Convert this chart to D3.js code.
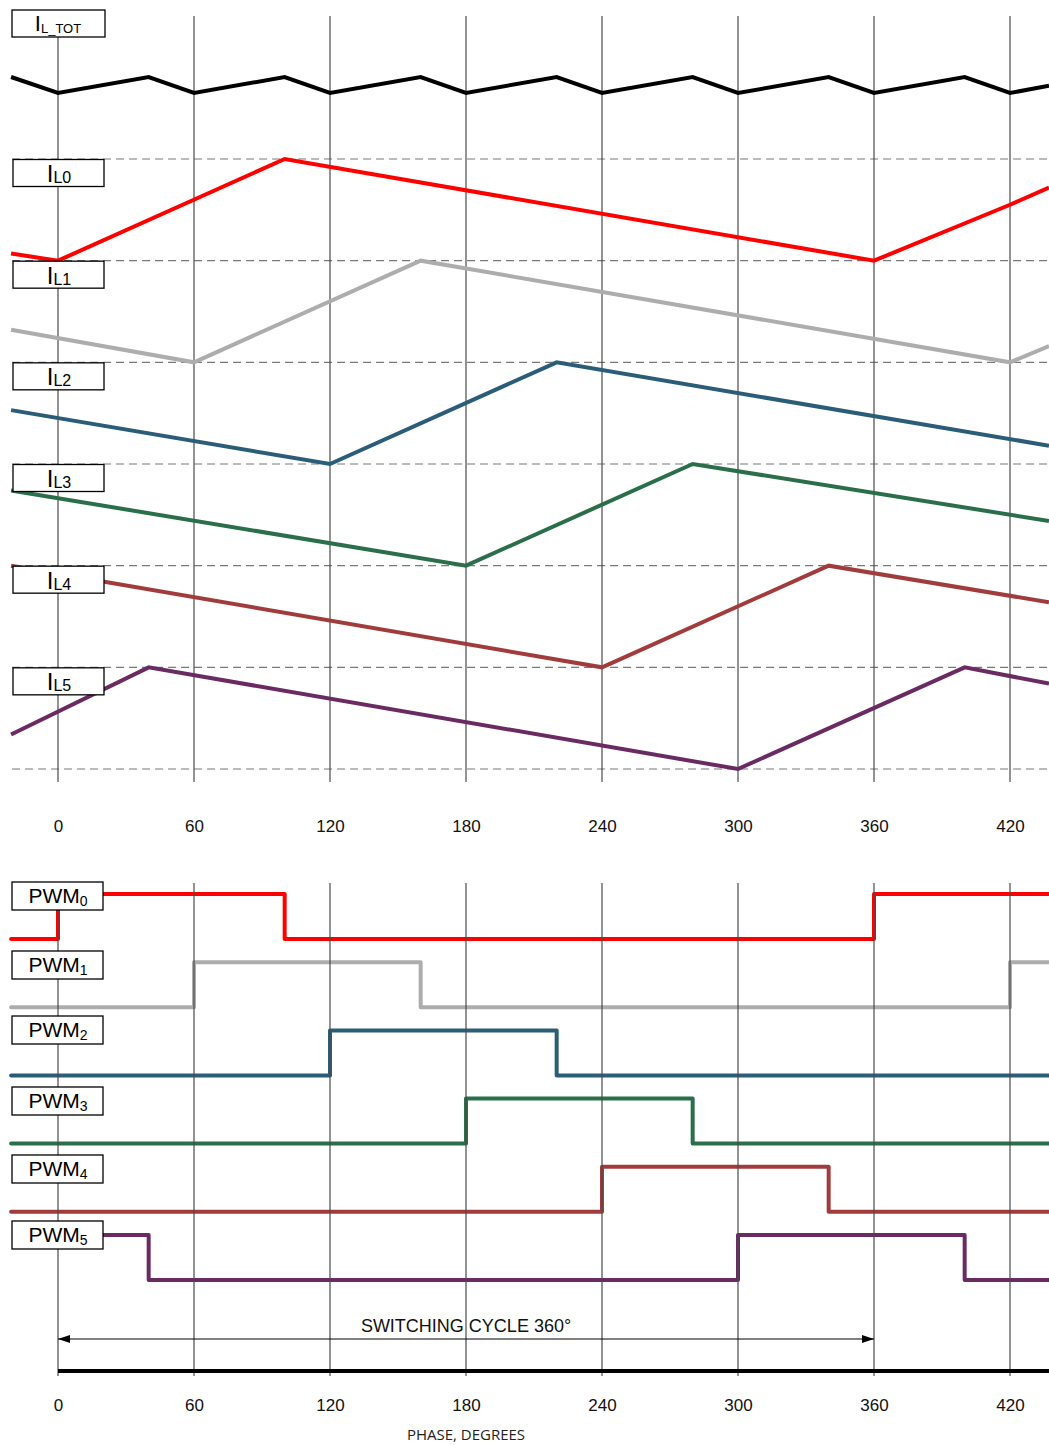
<!DOCTYPE html>
<html>
<head>
<meta charset="utf-8">
<script src="https://cdn.jsdelivr.net/npm/d3@7"></script>
<style>
  html, body { margin: 0; padding: 0; background: #fff; }
  svg { display: block; }
</style>
</head>
<body>
<svg id="chart" width="1049" height="1445"></svg>
<script>
// Phase axis ticks (degrees)
const phaseTicks = [0, 60, 120, 180, 240, 300, 360, 420];
const phaseStart = -20.7;
const phaseEnd = 437.2;

// Total inductor current: valleys at every 60 deg, peaks 40 deg later (0 = valley, 1 = peak)
const ilTotal = [
  [-20.7, 1], [0, 0], [40, 1], [60, 0], [100, 1], [120, 0], [160, 1], [180, 0],
  [220, 1], [240, 0], [280, 1], [300, 0], [340, 1], [360, 0], [400, 1], [420, 0], [437.2, 0.45]
];

// Phase currents, [phase, level] with 0 = valley, 1 = peak
const il0 = [[-20.7, 0.07], [0, 0], [100, 1], [360, 0], [420, 0.55], [437.2, 0.72]];
const il1 = [[-20.7, 0.32], [60, 0], [160, 1], [420, 0], [437.2, 0.16]];
const il2 = [[-20.7, 0.53], [120, 0], [220, 1], [437.2, 0.18]];
const il3 = [[-20.7, 0.74], [180, 0], [280, 1], [437.2, 0.44]];
const il4 = [[-20.7, 1], [240, 0], [340, 1], [437.2, 0.64]];
const il5 = [[-20.7, 0.34], [40, 1], [300, 0], [400, 1], [437.2, 0.84]];
const phaseCurrents = [il0, il1, il2, il3, il4, il5];
const ilLabels = ["L0", "L1", "L2", "L3", "L4", "L5"];

// PWM gate signals, [phase, state] stepping after each point
const pwm0 = [[-20.7, 0], [0, 1], [100, 0], [360, 1], [437.2, 1]];
const pwm1 = [[-20.7, 0], [60, 1], [160, 0], [420, 1], [437.2, 1]];
const pwm2 = [[-20.7, 0], [120, 1], [220, 0], [437.2, 0]];
const pwm3 = [[-20.7, 0], [180, 1], [280, 0], [437.2, 0]];
const pwm4 = [[-20.7, 0], [240, 1], [340, 0], [437.2, 0]];
const pwm5 = [[0, 1], [40, 0], [300, 1], [400, 0], [437.2, 0]];
const pwmSignals = [pwm0, pwm1, pwm2, pwm3, pwm4, pwm5];
const pwmLabels = ["0", "1", "2", "3", "4", "5"];

const phaseColors = ["#ff0000", "#adadad", "#2b5c78", "#2a6e4a", "#a23c3c", "#6a2a62"];

const svg = d3.select("#chart");
const font = "'Liberation Sans', Arial, Helvetica, sans-serif";

const x = d3.scaleLinear().domain([0, 420]).range([58, 1010]);

// ---------- Inductor current panel ----------
const rowY = d3.scaleLinear().domain([0, 6]).range([159, 769]);
const totY = d3.scaleLinear().domain([0, 1]).range([93, 77]);

const currentPanel = svg.append("g");

// dashed reference levels
currentPanel.selectAll("line.level")
  .data(d3.range(7))
  .join("line")
  .attr("x1", x(phaseStart) + 1).attr("x2", x(phaseEnd))
  .attr("y1", d => rowY(d)).attr("y2", d => rowY(d))
  .attr("stroke", "#787878").attr("stroke-width", 1.2)
  .attr("stroke-dasharray", "8,5");

// vertical phase grid
currentPanel.selectAll("line.grid")
  .data(phaseTicks)
  .join("line")
  .attr("x1", d => x(d)).attr("x2", d => x(d))
  .attr("y1", 16).attr("y2", 782)
  .attr("stroke", "#4a4a4a").attr("stroke-width", 1.2);

// total current
currentPanel.append("path")
  .datum(ilTotal)
  .attr("d", d3.line().x(d => x(d[0])).y(d => totY(d[1])))
  .attr("fill", "none").attr("stroke", "#000").attr("stroke-width", 4)
  .attr("stroke-linejoin", "miter");

// phase currents
phaseCurrents.forEach((pts, i) => {
  currentPanel.append("path")
    .datum(pts)
    .attr("d", d3.line().x(d => x(d[0])).y(d => rowY(i + 1 - d[1])))
    .attr("fill", "none").attr("stroke", phaseColors[i]).attr("stroke-width", 4)
    .attr("stroke-linejoin", "miter");
});

// label boxes
function labelBox(g, bx, by, bw, bh) {
  g.append("rect")
    .attr("x", bx).attr("y", by).attr("width", bw).attr("height", bh)
    .attr("fill", "#fff").attr("stroke", "#000").attr("stroke-width", 1.3);
}

labelBox(currentPanel, 12, 10, 93, 27);
{
  const t = currentPanel.append("text")
    .attr("x", 58).attr("y", 31)
    .attr("text-anchor", "middle")
    .attr("font-family", font).attr("fill", "#000");
  t.append("tspan").attr("font-size", 22).text("I");
  t.append("tspan").attr("font-size", 13).attr("dy", 2).text("L_TOT");
}

ilLabels.forEach((lab, i) => {
  const by = rowY(i);
  labelBox(currentPanel, 13, by + 0.5, 91, 27);
  const t = currentPanel.append("text")
    .attr("x", 59).attr("y", by + 23)
    .attr("text-anchor", "middle")
    .attr("font-family", font).attr("fill", "#000");
  t.append("tspan").attr("font-size", 24).text("I");
  t.append("tspan").attr("font-size", 16).attr("dy", 1).text(lab);
});

// top axis labels
const topAxis = currentPanel.append("g")
  .attr("transform", "translate(0,820)")
  .call(d3.axisBottom(x).tickValues(phaseTicks).tickSize(0).tickPadding(0));
topAxis.select(".domain").remove();
topAxis.selectAll("text")
  .attr("font-family", font).attr("font-size", 17).attr("fill", "#111")
  .attr("dy", "0.71em").attr("y", 0);

// ---------- PWM panel ----------
const pwmRow = d3.scaleLinear().domain([0, 5]).range([939, 1280]);
const pwmLevel = d3.scaleLinear().domain([0, 1]).range([0, -45]);

const pwmPanel = svg.append("g");

pwmSignals.forEach((pts, i) => {
  pwmPanel.append("path")
    .datum(pts)
    .attr("d", d3.line().curve(d3.curveStepAfter)
      .x(d => x(d[0])).y(d => pwmRow(i) + pwmLevel(d[1])))
    .attr("fill", "none").attr("stroke", phaseColors[i]).attr("stroke-width", 4)
    .attr("stroke-linejoin", "round").attr("stroke-linecap", "round");
});

pwmPanel.selectAll("line.grid")
  .data(phaseTicks)
  .join("line")
  .attr("x1", d => x(d)).attr("x2", d => x(d))
  .attr("y1", 883).attr("y2", 1376)
  .attr("stroke", "#4a4a4a").attr("stroke-width", 1.2);

const pwmBoxTop = [882, 951, 1016, 1087, 1155, 1221];
pwmLabels.forEach((lab, i) => {
  const by = pwmBoxTop[i];
  labelBox(pwmPanel, 12, by, 91, 28);
  const t = pwmPanel.append("text")
    .attr("x", 58).attr("y", by + 21)
    .attr("text-anchor", "middle")
    .attr("font-family", font).attr("fill", "#000");
  t.append("tspan").attr("font-size", 21).text("PWM");
  t.append("tspan").attr("font-size", 14).attr("dy", 3).text(lab);
});

// switching cycle arrow
const defs = svg.append("defs");
defs.append("marker")
  .attr("id", "arrowHead")
  .attr("viewBox", "0 0 12 8")
  .attr("refX", 12).attr("refY", 4)
  .attr("markerWidth", 12).attr("markerHeight", 8)
  .attr("markerUnits", "userSpaceOnUse")
  .attr("orient", "auto-start-reverse")
  .append("path").attr("d", "M0,0 L12,4 L0,8 Z").attr("fill", "#000");

pwmPanel.append("line")
  .attr("x1", x(0)).attr("x2", x(360))
  .attr("y1", 1339).attr("y2", 1339)
  .attr("stroke", "#000").attr("stroke-width", 1)
  .attr("marker-start", "url(#arrowHead)")
  .attr("marker-end", "url(#arrowHead)");

pwmPanel.append("text")
  .attr("x", x(180)).attr("y", 1332)
  .attr("text-anchor", "middle")
  .attr("font-family", font).attr("font-size", 18).attr("fill", "#111")
  .text("SWITCHING CYCLE 360°");

// phase axis baseline
pwmPanel.append("line")
  .attr("x1", x(0)).attr("x2", x(phaseEnd))
  .attr("y1", 1371).attr("y2", 1371)
  .attr("stroke", "#000").attr("stroke-width", 4);

const botAxis = pwmPanel.append("g")
  .attr("transform", "translate(0,1399)")
  .call(d3.axisBottom(x).tickValues(phaseTicks).tickSize(0).tickPadding(0));
botAxis.select(".domain").remove();
botAxis.selectAll("text")
  .attr("font-family", font).attr("font-size", 17).attr("fill", "#111")
  .attr("dy", "0.71em").attr("y", 0);

pwmPanel.append("text")
  .attr("x", x(180)).attr("y", 1440)
  .attr("text-anchor", "middle")
  .attr("font-family", "'Open Sans', 'Noto Sans', sans-serif").attr("font-size", 15).attr("fill", "#222")
  .text("PHASE, DEGREES");
</script>
</body>
</html>
